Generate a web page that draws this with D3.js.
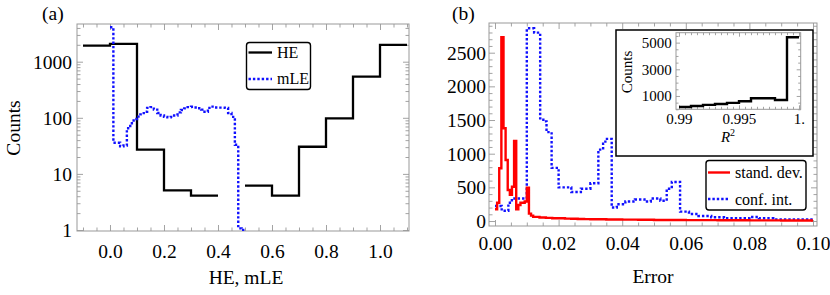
<!DOCTYPE html>
<html>
<head>
<meta charset="utf-8">
<script src="https://cdn.jsdelivr.net/npm/d3@7"></script>
<style>
html,body{margin:0;padding:0;background:#fff;}
svg{display:block;}
text{font-family:"Liberation Serif","Times New Roman",serif;fill:#000;}
</style>
</head>
<body>
<svg id="chart" width="830" height="295"></svg>
<script>
// ---------- DATA ----------
// Panel (a)
const heEdges = [-0.1, 0.0, 0.1, 0.2, 0.3, 0.4, 0.5, 0.6, 0.7, 0.8, 0.9, 1.0, 1.1];
const heCounts = [1930, 2070, 27, 5.1, 4.1, null, 6.2, 4.1, 30.5, 98, 540, 1990];
const mleBinWidth = 0.0125;
const mleCounts = [4100, 36, 36, 31, 32, 65, 80, 95, 105, 115, 128, 150, 155, 140, 122, 110,
  104, 102, 104, 110, 125, 138, 147, 155, 157, 153, 148, 140, 128, 150, 158, 153, 152, 152,
  150, 122, 104, 33, 1.07, 1.0];
const aXTicks = [0.0, 0.2, 0.4, 0.6, 0.8, 1.0];
const aYTicks = [1, 10, 100, 1000];
// Panel (b)
const sdEdges = [0, 0.00067, 0.00133, 0.002, 0.00267, 0.00333, 0.004, 0.00467, 0.00533, 0.006,
  0.00667, 0.00733, 0.008, 0.00867, 0.00933, 0.01, 0.01067, 0.01133, 0.012, 0.014, 0.016, 0.018,
  0.02, 0.022, 0.024, 0.026, 0.028, 0.03, 0.035, 0.04, 0.045, 0.05, 0.055, 0.06, 0.065, 0.07,
  0.075, 0.08, 0.085, 0.09, 0.095, 0.1];
const sdCounts = [174, 272, 783, 2729, 1377, 906, 460, 390, 510, 1190, 174, 238, 272, 272, 290,
  495, 110, 80, 62, 52, 46, 42, 40, 36, 33, 30, 28, 26, 22, 20, 18, 16, 15, 14, 13, 12, 11, 10, 9, 8, 7];
const ciEdges = [0, 0.0021, 0.0042, 0.0053, 0.01, 0.0123, 0.0142, 0.0152, 0.0162, 0.0178, 0.02,
  0.024, 0.027, 0.03, 0.0325, 0.034, 0.0347, 0.0367, 0.0383, 0.041, 0.044, 0.047, 0.049, 0.052,
  0.054, 0.0556, 0.0582, 0.061, 0.064, 0.068, 0.072, 0.08, 0.083, 0.0875, 0.1];
const ciCounts = [223, 153, 272, 335, 2862, 2798, 1525, 1480, 1320, 790, 500, 430, 480, 560, 1060,
  1150, 1220, 200, 250, 290, 320, 290, 335, 300, 480, 580, 140, 105, 75, 55, 40, 60, 40, 25];
const bXTicks = [0.00, 0.02, 0.04, 0.06, 0.08, 0.10];
const bYTicks = [0, 500, 1000, 1500, 2000, 2500];
// Inset
const r2Edges = [0.990, 0.991, 0.992, 0.993, 0.994, 0.995, 0.996, 0.997, 0.998, 0.999, 1.000];
const r2Counts = [170, 250, 330, 400, 480, 600, 830, 830, 700, 5400];
const iXTicks = [0.99, 0.995, 1.0];
const iXLabels = ["0.99", "0.995", "1."];
const iYTicks = [1000, 3000, 5000];

// ---------- HELPERS ----------
const svg = d3.select("#chart");
const FRAME = "#999";

function stepPoints(edges, counts) {
  const pts = [];
  counts.forEach((c, i) => {
    pts.push([edges[i], c]);
    pts.push([edges[i + 1], c]);
  });
  return pts;
}

function drawFrame(g, x, y, o) {
  const [l, r] = x.range();
  const [b, t] = y.range();
  g.append("rect").attr("x", l).attr("y", t).attr("width", r - l).attr("height", b - t)
    .attr("fill", "none").attr("stroke", FRAME).attr("stroke-width", 1);
  const style = sel => {
    sel.select(".domain").remove();
    sel.selectAll(".tick line").attr("stroke", FRAME).attr("stroke-width", 0.9);
  };
  // minor ticks
  g.append("g").attr("transform", `translate(0,${b})`)
    .call(d3.axisBottom(x).tickValues(o.xMinor).tickSize(-o.minor).tickFormat("")).call(style);
  g.append("g").attr("transform", `translate(0,${t})`)
    .call(d3.axisTop(x).tickValues(o.xMinor).tickSize(-o.minor).tickFormat("")).call(style);
  g.append("g").attr("transform", `translate(${l},0)`)
    .call(d3.axisLeft(y).tickValues(o.yMinor).tickSize(-o.minor).tickFormat("")).call(style);
  g.append("g").attr("transform", `translate(${r},0)`)
    .call(d3.axisRight(y).tickValues(o.yMinor).tickSize(-o.minor).tickFormat("")).call(style);
  // major ticks with labels
  const bx = g.append("g").attr("transform", `translate(0,${b})`)
    .call(d3.axisBottom(x).tickValues(o.xTicks).tickSize(-o.major).tickPadding(o.xPad).tickFormat(o.xFmt))
    .call(style);
  bx.selectAll("text").attr("font-size", o.fs).attr("fill", "#000")
    .attr("font-family", "Liberation Serif, Times New Roman, serif");
  g.append("g").attr("transform", `translate(0,${t})`)
    .call(d3.axisTop(x).tickValues(o.xTicks).tickSize(-o.major).tickFormat("")).call(style);
  const ly = g.append("g").attr("transform", `translate(${l},0)`)
    .call(d3.axisLeft(y).tickValues(o.yTicks).tickSize(-o.major).tickPadding(o.yPad).tickFormat(o.yFmt))
    .call(style);
  ly.selectAll("text").attr("font-size", o.fs).attr("fill", "#000").attr("dy", "0.33em")
    .attr("font-family", "Liberation Serif, Times New Roman, serif");
  g.append("g").attr("transform", `translate(${r},0)`)
    .call(d3.axisRight(y).tickValues(o.yTicks).tickSize(-o.major).tickFormat("")).call(style);
}

function clip(id, x, y) {
  const [l, r] = x.range();
  const [b, t] = y.range();
  svg.append("clipPath").attr("id", id).append("rect")
    .attr("x", l).attr("y", t).attr("width", r - l).attr("height", b - t);
}

const BLUE = "#1010ff";
const RED = "#ff0000";

// ---------- PANEL (a) ----------
const xA = d3.scaleLinear([-0.1222, 1.1074], [77, 409]);
const yA = d3.scaleLog([0.9598, 4699], [231, 24]);
const gA = svg.append("g");
const aYMinor = [];
[1, 10, 100, 1000].forEach(dec => { for (let k = 2; k <= 9; k++) if (k * dec < 4699) aYMinor.push(k * dec); });
drawFrame(gA, xA, yA, {
  xTicks: aXTicks, yTicks: aYTicks,
  xMinor: d3.range(-0.1, 1.1001, 0.05).filter(v => Math.abs(Math.round(v * 5) - v * 5) > 1e-6),
  yMinor: aYMinor, major: 6, minor: 3.5, xPad: 13, yPad: 5, fs: 19.5,
  xFmt: d3.format(".1f"), yFmt: d3.format("d")
});
clip("clipA", xA, yA);
const lineA = d3.line().defined(d => d[1] != null && d[1] > 0).x(d => xA(d[0])).y(d => yA(d[1]));
const mleEdges = d3.range(mleCounts.length + 1).map(i => i * mleBinWidth);
gA.append("path").attr("clip-path", "url(#clipA)")
  .attr("d", lineA(stepPoints(heEdges, heCounts)))
  .attr("fill", "none").attr("stroke", "#000").attr("stroke-width", 2.3);
gA.append("path").attr("clip-path", "url(#clipA)")
  .attr("d", lineA(stepPoints(mleEdges, mleCounts)))
  .attr("fill", "none").attr("stroke", BLUE).attr("stroke-width", 2.4)
  .attr("stroke-dasharray", "2.4,2");

// legend (a)
const legA = gA.append("g");
legA.append("rect").attr("x", 246.5).attr("y", 42.5).attr("width", 64).attr("height", 47)
  .attr("rx", 3).attr("fill", "#fff").attr("stroke", "#000").attr("stroke-width", 1.4);
legA.append("line").attr("x1", 248.5).attr("x2", 272).attr("y1", 52.5).attr("y2", 52.5)
  .attr("stroke", "#000").attr("stroke-width", 2.3);
legA.append("line").attr("x1", 248.5).attr("x2", 272).attr("y1", 79).attr("y2", 79)
  .attr("stroke", BLUE).attr("stroke-width", 2.4).attr("stroke-dasharray", "2.4,2");
legA.append("text").attr("x", 277).attr("y", 57.5).attr("font-size", 16).text("HE");
legA.append("text").attr("x", 277).attr("y", 84).attr("font-size", 16).text("mLE");

svg.append("text").attr("x", 42).attr("y", 20).attr("font-size", 19.5).text("(a)");
svg.append("text").attr("x", 246).attr("y", 284).attr("font-size", 19.5)
  .attr("text-anchor", "middle").text("HE, mLE");
svg.append("text").attr("transform", "translate(20,128) rotate(-90)").attr("font-size", 19.5)
  .attr("text-anchor", "middle").text("Counts");

// ---------- PANEL (b) ----------
const xB = d3.scaleLinear([-0.00189, 0.10126], [489, 817]);
const yB = d3.scaleLinear([-74, 2941], [226, 23]);
const gB = svg.append("g");
drawFrame(gB, xB, yB, {
  xTicks: bXTicks, yTicks: bYTicks,
  xMinor: d3.range(0, 0.1001, 0.005).filter(v => Math.abs(Math.round(v * 50) - v * 50) > 1e-6),
  yMinor: d3.range(0, 2901, 100).filter(v => v % 500 !== 0),
  major: 6, minor: 3.5, xPad: 10, yPad: 3, fs: 19.5,
  xFmt: d3.format(".2f"), yFmt: d3.format("d")
});
clip("clipB", xB, yB);
const lineB = d3.line().x(d => xB(d[0])).y(d => yB(d[1]));
gB.append("path").attr("clip-path", "url(#clipB)")
  .attr("d", lineB(stepPoints(ciEdges, ciCounts)))
  .attr("fill", "none").attr("stroke", BLUE).attr("stroke-width", 2.4)
  .attr("stroke-dasharray", "2.4,2");
gB.append("path").attr("clip-path", "url(#clipB)")
  .attr("d", lineB(stepPoints(sdEdges, sdCounts)))
  .attr("fill", "none").attr("stroke", RED).attr("stroke-width", 2.4);

// legend (b)
const legB = gB.append("g");
legB.append("rect").attr("x", 706).attr("y", 160.5).attr("width", 100).attr("height", 49.5)
  .attr("rx", 3).attr("fill", "#fff").attr("stroke", "#000").attr("stroke-width", 1.4);
legB.append("line").attr("x1", 708).attr("x2", 730).attr("y1", 172.5).attr("y2", 172.5)
  .attr("stroke", RED).attr("stroke-width", 2.4);
legB.append("line").attr("x1", 708).attr("x2", 730).attr("y1", 199).attr("y2", 199)
  .attr("stroke", BLUE).attr("stroke-width", 2.4).attr("stroke-dasharray", "2.4,2");
legB.append("text").attr("x", 735).attr("y", 178).attr("font-size", 16).text("stand. dev.");
legB.append("text").attr("x", 735).attr("y", 204.5).attr("font-size", 16).text("conf. int.");

svg.append("text").attr("x", 452).attr("y", 20).attr("font-size", 19.5).text("(b)");
svg.append("text").attr("x", 653).attr("y", 283).attr("font-size", 19.5)
  .attr("text-anchor", "middle").text("Error");

// ---------- INSET ----------
const gI = svg.append("g");
gI.append("rect").attr("x", 616).attr("y", 30).attr("width", 197).attr("height", 126)
  .attr("fill", "#fff").attr("stroke", "#000").attr("stroke-width", 1.5);
const xI = d3.scaleLinear([0.98975, 1.000142], [676, 800.7]);
const yI = d3.scaleLinear([0, 5745], [109.3, 32.7]);
drawFrame(gI, xI, yI, {
  xTicks: iXTicks, yTicks: iYTicks,
  xMinor: d3.range(0.9900, 1.00001, 0.0005).filter(v => Math.abs(Math.round(v * 200) - v * 200) > 1e-6),
  yMinor: d3.range(0, 5701, 500).filter(v => !iYTicks.includes(v)),
  major: 4, minor: 2.5, xPad: 4, yPad: 4.3, fs: 15,
  xFmt: (d, i) => iXLabels[i], yFmt: d3.format("d")
});
clip("clipI", xI, yI);
const lineI = d3.line().x(d => xI(d[0])).y(d => yI(d[1]));
gI.append("path").attr("clip-path", "url(#clipI)")
  .attr("d", lineI(stepPoints(r2Edges, r2Counts)))
  .attr("fill", "none").attr("stroke", "#000").attr("stroke-width", 2.4);
gI.append("text").attr("transform", "translate(632,72) rotate(-90)").attr("font-size", 15)
  .attr("text-anchor", "middle").text("Counts");
const r2 = gI.append("text").attr("x", 728).attr("y", 142).attr("font-size", 15)
  .attr("text-anchor", "middle");
r2.append("tspan").attr("font-style", "italic").text("R");
r2.append("tspan").attr("font-size", 10).attr("dy", -6).text("2");
</script>
</body>
</html>
